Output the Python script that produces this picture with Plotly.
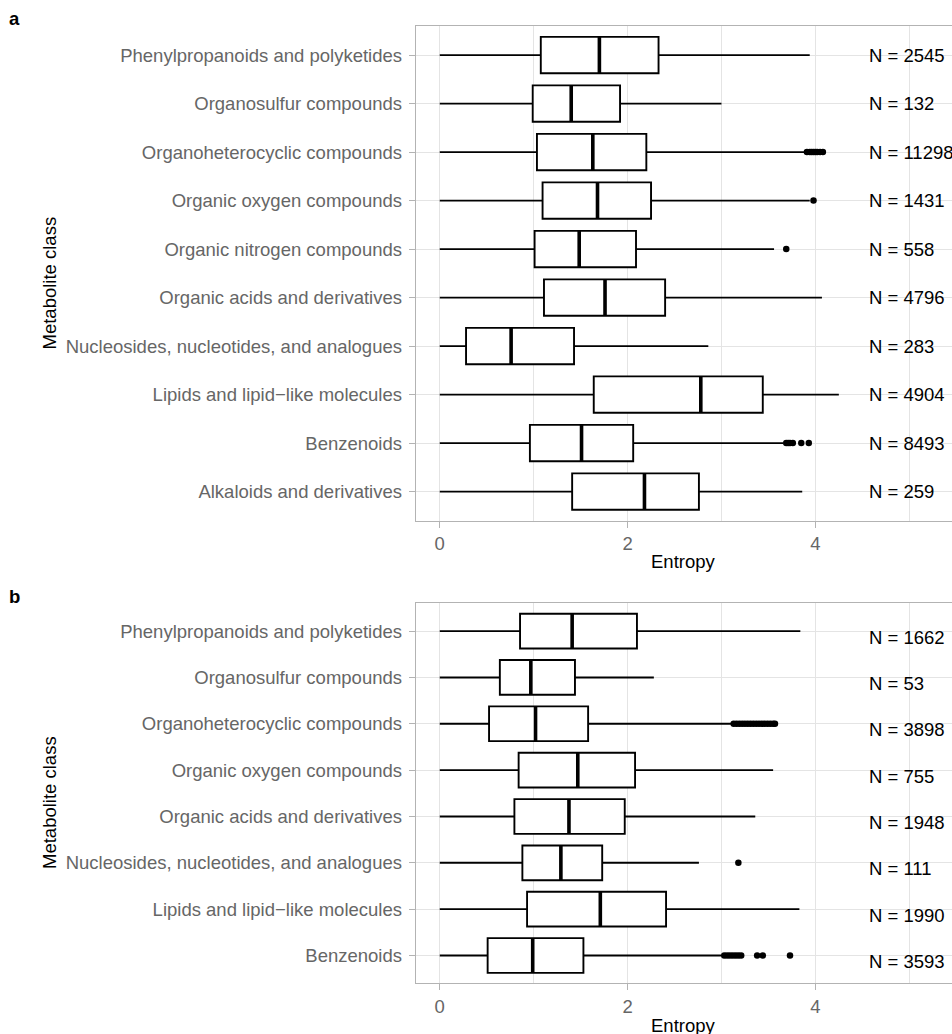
import plotly.graph_objects as go

# ---------------- data (panel a), listed bottom -> top ----------------
cats_a = ["Alkaloids and derivatives", "Benzenoids", "Lipids and lipid\u2212like molecules",
          "Nucleosides, nucleotides, and analogues", "Organic acids and derivatives",
          "Organic nitrogen compounds", "Organic oxygen compounds",
          "Organoheterocyclic compounds", "Organosulfur compounds",
          "Phenylpropanoids and polyketides"]
low_a = [0, 0, 0, 0, 0, 0, 0, 0, 0, 0]
q1_a = [1.41, 0.96, 1.64, 0.28, 1.11, 1.01, 1.095, 1.035, 0.99, 1.076]
med_a = [2.18, 1.51, 2.78, 0.76, 1.76, 1.485, 1.68, 1.63, 1.40, 1.70]
q3_a = [2.76, 2.06, 3.44, 1.43, 2.40, 2.09, 2.25, 2.20, 1.92, 2.33]
high_a = [3.86, 3.66, 4.25, 2.86, 4.07, 3.56, 3.94, 3.89, 3.00, 3.94]
n_a = [259, 8493, 4904, 283, 4796, 558, 1431, 11298, 132, 2545]
out_a = [[], [3.69, 3.71, 3.73, 3.76, 3.85, 3.93], [], [], [], [3.69], [3.98],
         [3.91, 3.94, 3.96, 3.98, 4.00, 4.02, 4.05, 4.08], [], []]

# ---------------- data (panel b), listed bottom -> top ----------------
cats_b = ["Benzenoids", "Lipids and lipid\u2212like molecules",
          "Nucleosides, nucleotides, and analogues", "Organic acids and derivatives",
          "Organic oxygen compounds", "Organoheterocyclic compounds",
          "Organosulfur compounds", "Phenylpropanoids and polyketides"]
low_b = [0, 0, 0, 0, 0, 0, 0, 0]
q1_b = [0.51, 0.93, 0.88, 0.795, 0.84, 0.525, 0.64, 0.855]
med_b = [0.99, 1.71, 1.29, 1.376, 1.47, 1.02, 0.97, 1.41]
q3_b = [1.53, 2.41, 1.73, 1.97, 2.08, 1.58, 1.44, 2.10]
high_b = [3.01, 3.83, 2.76, 3.36, 3.55, 3.12, 2.28, 3.84]
n_b = [3593, 1990, 111, 1948, 755, 3898, 53, 1662]
out_b = [[3.03, 3.06, 3.09, 3.12, 3.15, 3.18, 3.21, 3.38, 3.44, 3.73], [], [3.18], [], [],
         [3.13, 3.16, 3.19, 3.22, 3.25, 3.28, 3.31, 3.34, 3.37, 3.40, 3.43, 3.46, 3.49,
          3.52, 3.55, 3.57], [], []]

x_ticks = [0, 2, 4]
x_title = "Entropy"
y_title = "Metabolite class"

# ---------------- style ----------------
W, H = 952, 1034
FONT = "Liberation Sans, Arial, Helvetica, sans-serif"
FS = 18.5
GRID = "#E4E4E4"
BORDER = "#B3B3B3"
TICKTXT = "#666666"
BOXW = 0.75
N_X = 4.546

fig = go.Figure()


def add_panel(cats, low, q1, med, q3, high, n, outs, xa, ya, nshift):
    pos = list(range(1, len(cats) + 1))
    fig.add_trace(go.Box(
        y=pos, q1=q1, median=med, q3=q3, lowerfence=low, upperfence=high,
        orientation="h", width=BOXW, boxpoints=False, whiskerwidth=0,
        fillcolor="white", line=dict(color="black", width=1.9),
        xaxis=xa, yaxis=ya, showlegend=False, hoverinfo="skip"))
    mx, my = [], []
    for p, m in zip(pos, med):
        mx += [m, m, None]
        my += [p - BOXW / 2, p + BOXW / 2, None]
    fig.add_trace(go.Scatter(x=mx, y=my, mode="lines",
                             line=dict(color="black", width=3.6),
                             xaxis=xa, yaxis=ya, showlegend=False, hoverinfo="skip"))
    ox, oy = [], []
    for p, o in zip(pos, outs):
        ox += o
        oy += [p] * len(o)
    fig.add_trace(go.Scatter(x=ox, y=oy, mode="markers",
                             marker=dict(color="black", size=6.5),
                             xaxis=xa, yaxis=ya, showlegend=False, hoverinfo="skip"))
    xr = "x" if xa == "x" else "x2"
    yr = "y" if ya == "y" else "y2"
    for p, v in zip(pos, n):
        fig.add_annotation(x=N_X, y=p, xref=xr, yref=yr, text=f"N = {v}",
                           showarrow=False, xanchor="left", yanchor="middle",
                           yshift=nshift, font=dict(family=FONT, size=FS, color="black"))
    return pos


pos_a = add_panel(cats_a, low_a, q1_a, med_a, q3_a, high_a, n_a, out_a, "x", "y", 0)
pos_b = add_panel(cats_b, low_b, q1_b, med_b, q3_b, high_b, n_b, out_b, "x2", "y2", -6)

xcommon = dict(range=[-0.255, 5.455], tickmode="array", tickvals=x_ticks,
               ticktext=[str(t) for t in x_ticks],
               showgrid=True, gridcolor=GRID, gridwidth=1, zeroline=False,
               minor=dict(tickmode="linear", tick0=0, dtick=1, showgrid=True,
                          gridcolor=GRID, gridwidth=1, ticks=""),
               showline=True, linecolor=BORDER, linewidth=1.2, mirror=True,
               ticks="outside", ticklen=6, tickwidth=1.2, tickcolor=BORDER,
               tickfont=dict(family=FONT, size=FS, color=TICKTXT),
               domain=[415.8 / W, 1.0], fixedrange=True)
ycommon = dict(showgrid=True, gridcolor=GRID, gridwidth=1, zeroline=False,
               showline=True, linecolor=BORDER, linewidth=1.2, mirror=False,
               ticks="outside", ticklen=6, tickwidth=1.2, tickcolor=BORDER,
               ticklabelstandoff=3,
               tickfont=dict(family=FONT, size=FS, color=TICKTXT), fixedrange=True)

fig.update_layout(
    width=W, height=H, margin=dict(l=0, r=0, t=0, b=0),
    paper_bgcolor="white", plot_bgcolor="white", showlegend=False,
    xaxis=dict(anchor="y", **xcommon),
    yaxis=dict(anchor="x", range=[0.4, len(cats_a) + 0.6], tickmode="array",
               tickvals=pos_a, ticktext=cats_a,
               domain=[1 - 520.7 / H, 1 - 26 / H], **ycommon),
    xaxis2=dict(anchor="y2", **xcommon),
    yaxis2=dict(anchor="x2", range=[0.4, len(cats_b) + 0.6], tickmode="array",
                tickvals=pos_b, ticktext=cats_b,
                domain=[1 - 983.3 / H, 1 - 603.3 / H], **ycommon),
)

# axis titles and panel labels
for yc in (283.5, 803):
    fig.add_annotation(x=49 / W, y=1 - yc / H, xref="paper", yref="paper", text=y_title,
                       textangle=-90, showarrow=False, xanchor="center", yanchor="middle",
                       font=dict(family=FONT, size=FS, color="black"))
for yc in (561.5, 1025.8):
    fig.add_annotation(x=683 / W, y=1 - yc / H, xref="paper", yref="paper", text=x_title,
                       showarrow=False, xanchor="center", yanchor="middle",
                       font=dict(family=FONT, size=FS, color="black"))
for lab, yc in (("a", 18.5), ("b", 596.5)):
    fig.add_annotation(x=7 / W, y=1 - yc / H, xref="paper", yref="paper",
                       text=f"<b>{lab}</b>", showarrow=False, xanchor="left", yanchor="middle",
                       font=dict(family=FONT, size=FS, color="black"))

fig.write_html("out.html", config={"displayModeBar": False})
